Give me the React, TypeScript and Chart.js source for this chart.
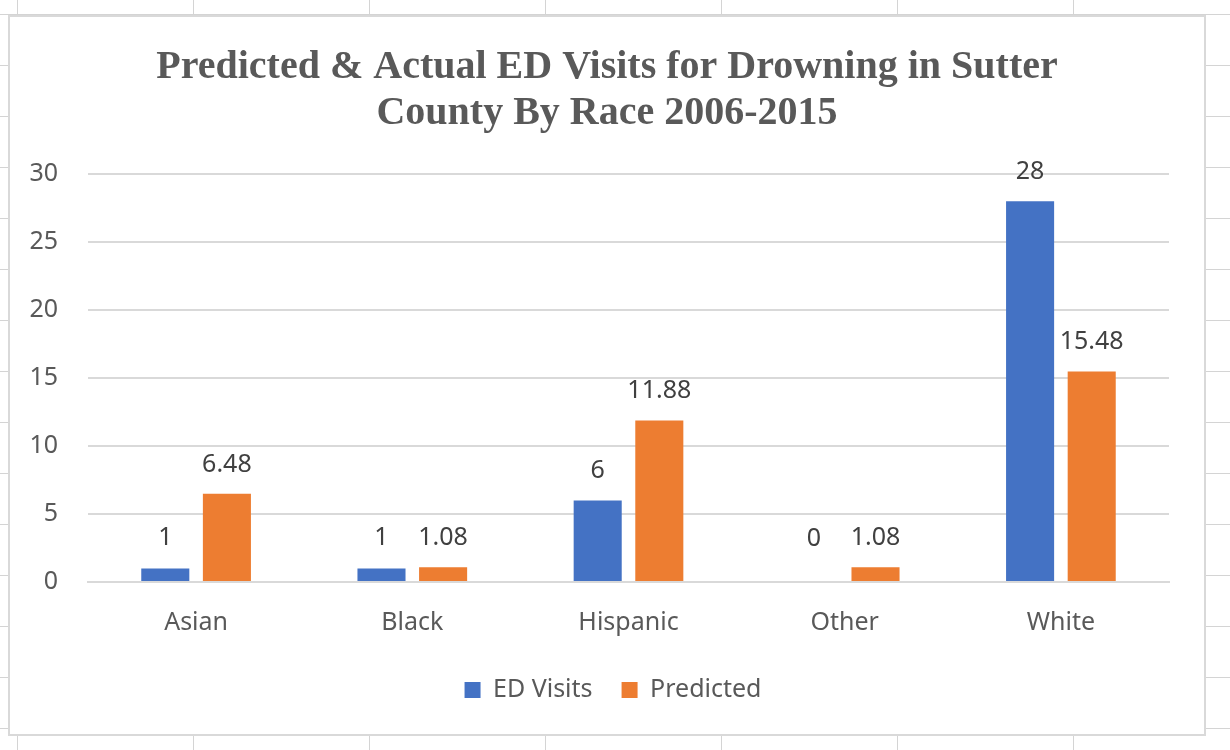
import React, { useEffect, useRef } from "react";
import { Chart, registerables } from "chart.js";

Chart.register(...registerables);

const categories = ["Asian", "Black", "Hispanic", "Other", "White"];
const edVisits = [1, 1, 6, 0, 28];
const predicted = [6.48, 1.08, 11.88, 1.08, 15.48];
const seriesNames = ["ED Visits", "Predicted"];
const titleLines = [
  "Predicted & Actual ED Visits for Drowning in Sutter",
  "County By Race 2006-2015",
];

const labelPlugin = {
  id: "barValueLabels",
  afterLayout(chart: any) {
    if (chart.legend) {
      chart.legend.left += 6;
      chart.legend.right += 6;
    }
  },
  afterDatasetsDraw(chart: any) {
    const ctx = chart.ctx;
    ctx.save();
    ctx.font = "25px 'Noto Sans'";
    ctx.fillStyle = "#404040";
    ctx.textAlign = "center";
    ctx.textBaseline = "alphabetic";
    chart.data.datasets.forEach((ds: any, i: number) => {
      const meta = chart.getDatasetMeta(i);
      meta.data.forEach((el: any, j: number) => {
        const v = ds.data[j];
        const y = Math.min(el.y - 22, el.base - 36);
        ctx.fillText(String(v), el.x, y);
      });
    });
    ctx.restore();
  },
};

export default function App() {
  const ref = useRef<HTMLCanvasElement | null>(null);

  useEffect(() => {
    if (!ref.current) return;
    const chart = new Chart(ref.current, {
      type: "bar",
      data: {
        labels: categories,
        datasets: [
          {
            label: seriesNames[0],
            data: edVisits,
            backgroundColor: "#4472C4",
            barPercentage: 0.78,
            categoryPercentage: 0.57,
          },
          {
            label: seriesNames[1],
            data: predicted,
            backgroundColor: "#ED7D31",
            barPercentage: 0.78,
            categoryPercentage: 0.57,
          },
        ],
      },
      options: {
        animation: false,
        responsive: false,
        maintainAspectRatio: false,
        devicePixelRatio: 1,
        layout: { padding: { left: 0, right: 0, top: 0, bottom: 21.5 } },
        plugins: {
          tooltip: { enabled: false },
          title: {
            display: true,
            text: titleLines,
            color: "#595959",
            font: { family: "'Liberation Serif'", size: 40, weight: "bold", lineHeight: 1.15 },
            padding: { top: 28, bottom: 37 },
          },
          legend: {
            position: "bottom",
            labels: {
              boxWidth: 16,
              boxHeight: 16,
              color: "#595959",
              font: { family: "'Noto Sans'", size: 25 },
              padding: 29,
            },
          },
        },
        scales: {
          x: {
            grid: { display: false, drawTicks: false },
            border: { display: true, color: "#d9d9d9", width: 2 },
            ticks: {
              color: "#595959",
              font: { family: "'Noto Sans'", size: 25 },
              padding: 26,
            },
            afterFit: (s: any) => {
              s.height = 66.5;
            },
          },
          y: {
            min: 0,
            max: 30,
            ticks: {
              stepSize: 5,
              color: "#595959",
              font: { family: "'Noto Sans'", size: 25 },
              padding: 30,
            },
            grid: { color: "#d9d9d9", lineWidth: 2, drawTicks: false },
            border: { display: false },
            afterFit: (s: any) => {
              s.width = 78;
            },
          },
          yRight: {
            position: "right",
            display: true,
            min: 0,
            max: 30,
            grid: { display: false, drawTicks: false },
            border: { display: false },
            ticks: { display: false },
            afterFit: (s: any) => {
              s.width = 35;
            },
          },
        },
      },
      plugins: [labelPlugin],
    });
    return () => chart.destroy();
  }, []);

  const gridBg: React.CSSProperties = {
    position: "fixed",
    left: 0,
    top: 0,
    width: 1230,
    height: 750,
    background: "#ffffff",
    backgroundImage:
      "linear-gradient(to bottom, #d4d4d4 1px, transparent 1px), linear-gradient(to right, #d4d4d4 1px, transparent 1px)",
    backgroundSize: "176px 51px",
    backgroundPosition: "17px 14px",
  };

  return (
    <div>
      <div style={gridBg} />
      <div
        style={{
          position: "fixed",
          left: 8,
          top: 15,
          width: 1198,
          height: 721,
          boxSizing: "border-box",
          border: "2px solid #d9d9d9",
          background: "#ffffff",
        }}
      >
        <canvas ref={ref} width={1194} height={717} style={{ display: "block", width: 1194, height: 717 }} />
      </div>
    </div>
  );
}
